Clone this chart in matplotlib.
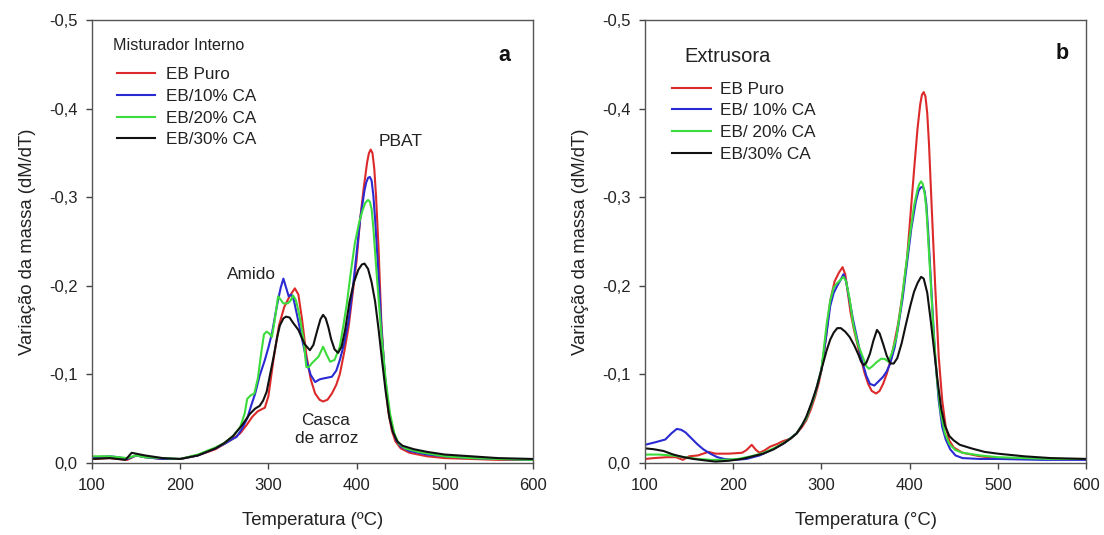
import matplotlib
matplotlib.use("Agg")
import matplotlib.pyplot as plt
from matplotlib.ticker import FuncFormatter, MultipleLocator

plt.rcParams['font.family'] = ['Liberation Sans', 'DejaVu Sans']

# ---------------- Panel a: Misturador Interno ----------------
a_puro_T = [100, 120, 140, 150, 160, 180, 200, 220, 240, 250, 260, 268, 275, 282, 288, 292, 296,
            300, 306, 312, 318, 324, 330, 334, 338, 343, 348, 353, 358, 362, 367, 372, 377, 381,
            386, 391, 396, 400, 404, 408, 412, 414, 416, 418, 420, 422, 425, 428, 432, 436, 440,
            444, 450, 460, 480, 500, 530, 560, 600]
a_puro_y = [-0.004, -0.005, -0.003, -0.008, -0.006, -0.004, -0.004, -0.008, -0.015, -0.021, -0.027,
            -0.033, -0.042, -0.052, -0.058, -0.060, -0.062, -0.075, -0.118, -0.155, -0.176, -0.188,
            -0.197, -0.190, -0.163, -0.122, -0.094, -0.078, -0.071, -0.069, -0.071, -0.078, -0.088,
            -0.100, -0.125, -0.154, -0.195, -0.229, -0.275, -0.310, -0.340, -0.350, -0.354, -0.350,
            -0.333, -0.302, -0.240, -0.160, -0.095, -0.057, -0.036, -0.024, -0.016, -0.011, -0.007,
            -0.005, -0.004, -0.003, -0.003]

a_10_T = [100, 120, 130, 140, 150, 160, 180, 200, 220, 240, 250, 260, 264, 270, 276, 281, 285, 290,
          296, 300, 304, 308, 311, 314, 317, 320, 323, 326, 329, 332, 336, 340, 344, 348, 353, 358,
          362, 367, 372, 377, 381, 386, 391, 396, 400, 404, 409, 411, 413, 415, 417, 419, 421, 425,
          428, 432, 436, 440, 445, 450, 460, 480, 500, 530, 560, 600]
a_10_y = [-0.006, -0.007, -0.006, -0.004, -0.008, -0.006, -0.004, -0.004, -0.008, -0.016, -0.021,
          -0.027, -0.029, -0.038, -0.050, -0.066, -0.078, -0.098, -0.116, -0.130, -0.146, -0.168,
          -0.184, -0.198, -0.208, -0.198, -0.188, -0.190, -0.183, -0.169, -0.150, -0.131, -0.112,
          -0.099, -0.091, -0.094, -0.095, -0.096, -0.097, -0.104, -0.116, -0.135, -0.161, -0.200,
          -0.237, -0.275, -0.308, -0.317, -0.322, -0.323, -0.319, -0.302, -0.275, -0.210, -0.154,
          -0.100, -0.063, -0.040, -0.025, -0.018, -0.013, -0.009, -0.007, -0.005, -0.004, -0.003]

a_20_T = [100, 120, 140, 150, 160, 180, 200, 220, 240, 250, 260, 268, 273, 276, 280, 284, 288, 292,
          295, 298, 301, 304, 307, 311, 314, 317, 322, 325, 328, 331, 334, 337, 340, 343, 346, 349,
          353, 357, 362, 366, 370, 375, 381, 385, 389, 393, 398, 403, 407, 410, 413, 415, 417, 419,
          423, 428, 433, 438, 443, 448, 455, 470, 500, 530, 560, 600]
a_20_y = [-0.007, -0.007, -0.005, -0.008, -0.006, -0.005, -0.004, -0.009, -0.017, -0.022, -0.030,
          -0.040, -0.055, -0.072, -0.076, -0.078, -0.095, -0.125, -0.145, -0.148, -0.146, -0.142,
          -0.160, -0.188, -0.184, -0.180, -0.180, -0.183, -0.189, -0.184, -0.172, -0.156, -0.138,
          -0.108, -0.108, -0.112, -0.116, -0.120, -0.131, -0.122, -0.114, -0.116, -0.131, -0.155,
          -0.180, -0.212, -0.248, -0.272, -0.286, -0.294, -0.297, -0.295, -0.287, -0.265, -0.210,
          -0.146, -0.093, -0.055, -0.032, -0.021, -0.016, -0.012, -0.007, -0.005, -0.004, -0.003]

a_30_T = [100, 120, 138, 145, 150, 160, 180, 200, 220, 240, 250, 260, 270, 279, 285, 290, 294, 298,
          302, 306, 310, 313, 317, 320, 324, 328, 334, 341, 347, 351, 355, 359, 362, 365, 368, 371,
          375, 379, 383, 387, 392, 397, 402, 406, 409, 413, 417, 421, 425, 429, 433, 437, 441, 446,
          452, 465, 480, 500, 530, 560, 600]
a_30_y = [-0.004, -0.005, -0.003, -0.011, -0.010, -0.008, -0.005, -0.004, -0.008, -0.016, -0.022,
          -0.030, -0.042, -0.055, -0.061, -0.064, -0.070, -0.080, -0.100, -0.120, -0.142, -0.155,
          -0.163, -0.165, -0.164, -0.158, -0.150, -0.134, -0.127, -0.133, -0.148, -0.162, -0.167,
          -0.163, -0.153, -0.140, -0.128, -0.124, -0.131, -0.150, -0.182, -0.204, -0.218, -0.224,
          -0.225, -0.219, -0.204, -0.182, -0.150, -0.114, -0.080, -0.052, -0.035, -0.024, -0.019,
          -0.015, -0.012, -0.009, -0.007, -0.005, -0.004]

# ---------------- Panel b: Extrusora ----------------
b_puro_T = [100, 110, 125, 135, 143, 150, 160, 172, 180, 195, 210, 215, 221, 226, 230, 236, 242, 250,
            256, 265, 272, 278, 283, 288, 293, 297, 300, 305, 310, 315, 320, 324, 327, 330, 333, 337,
            341, 345, 349, 353, 357, 362, 366, 370, 374, 378, 382, 387, 392, 397, 401, 405, 409, 412,
            414, 416, 418, 420, 422, 425, 429, 433, 437, 441, 445, 450, 460, 480, 500, 530, 560, 600]
b_puro_y = [-0.004, -0.005, -0.006, -0.006, -0.003, -0.007, -0.008, -0.012, -0.010, -0.010, -0.011,
            -0.014, -0.020, -0.014, -0.011, -0.014, -0.018, -0.021, -0.024, -0.027, -0.033, -0.040,
            -0.048, -0.060, -0.075, -0.090, -0.104, -0.140, -0.183, -0.205, -0.215, -0.221, -0.213,
            -0.192, -0.170, -0.150, -0.133, -0.117, -0.101, -0.089, -0.081, -0.078, -0.081, -0.089,
            -0.100, -0.114, -0.132, -0.157, -0.190, -0.230, -0.280, -0.330, -0.378, -0.405, -0.416,
            -0.419, -0.414, -0.395, -0.360, -0.290, -0.200, -0.120, -0.070, -0.040, -0.025, -0.017,
            -0.011, -0.007, -0.005, -0.004, -0.004, -0.004]

b_10_T = [100, 112, 123, 130, 136, 141, 146, 152, 159, 166, 174, 182, 190, 200, 215, 230, 245, 258,
          272, 283, 292, 300, 305, 310, 314, 318, 322, 325, 328, 332, 336, 341, 346, 351, 355, 360,
          365, 370, 374, 378, 383, 387, 392, 397, 402, 407, 410, 412.5, 415, 417, 419, 421, 425, 429,
          433, 437, 441, 446, 452, 460, 480, 500, 550, 600]
b_10_y = [-0.020, -0.023, -0.026, -0.033, -0.038, -0.037, -0.034, -0.028, -0.021, -0.015, -0.010,
          -0.006, -0.004, -0.003, -0.004, -0.008, -0.015, -0.022, -0.033, -0.050, -0.075, -0.105,
          -0.140, -0.177, -0.192, -0.200, -0.207, -0.213, -0.205, -0.183, -0.161, -0.138, -0.115,
          -0.098, -0.089, -0.087, -0.092, -0.097, -0.103, -0.112, -0.130, -0.153, -0.185, -0.225,
          -0.265, -0.295, -0.307, -0.311, -0.312, -0.307, -0.292, -0.262, -0.190, -0.120, -0.070,
          -0.040, -0.026, -0.015, -0.008, -0.005, -0.004, -0.004, -0.003, -0.003]

b_20_T = [100, 115, 130, 145, 160, 175, 190, 205, 220, 235, 250, 262, 272, 283, 292, 300, 306, 310,
          314, 318, 322, 325, 328, 332, 336, 341, 347, 351, 354, 358, 362, 368, 372, 376, 380, 385,
          390, 395, 400, 405, 409, 411, 413, 415, 417, 419, 423, 427, 431, 435, 440, 445, 452, 460,
          480, 500, 530, 560, 600]
b_20_y = [-0.009, -0.009, -0.008, -0.006, -0.004, -0.003, -0.003, -0.004, -0.007, -0.011, -0.018,
          -0.025, -0.033, -0.050, -0.075, -0.105, -0.157, -0.183, -0.198, -0.203, -0.207, -0.210,
          -0.205, -0.185, -0.157, -0.135, -0.119, -0.109, -0.106, -0.109, -0.113, -0.1175, -0.117,
          -0.114, -0.124, -0.142, -0.175, -0.215, -0.255, -0.290, -0.309, -0.315, -0.318, -0.315,
          -0.305, -0.287, -0.220, -0.150, -0.095, -0.058, -0.033, -0.021, -0.014, -0.011, -0.008,
          -0.006, -0.005, -0.004, -0.004]

b_30_T = [100, 110, 121, 132, 144, 155, 166, 180, 195, 210, 222, 234, 246, 257, 265, 272, 278, 283,
          289, 295, 300, 306, 310, 314, 318, 322, 327, 332, 337, 342, 345, 348, 351, 355, 359, 363,
          366, 370, 374, 378, 382, 386, 391, 396, 401, 405, 409, 413, 416, 420, 424, 428, 432, 436,
          440, 445, 450, 457, 470, 485, 500, 530, 560, 600]
b_30_y = [-0.016, -0.015, -0.013, -0.009, -0.006, -0.004, -0.0026, -0.001, -0.002, -0.004, -0.007,
          -0.010, -0.015, -0.0215, -0.027, -0.033, -0.042, -0.052, -0.068, -0.086, -0.105, -0.127,
          -0.139, -0.147, -0.152, -0.152, -0.148, -0.142, -0.133, -0.122, -0.114, -0.110, -0.113,
          -0.123, -0.138, -0.150, -0.146, -0.134, -0.121, -0.112, -0.112, -0.118, -0.135, -0.157,
          -0.178, -0.193, -0.203, -0.210, -0.208, -0.192, -0.160, -0.125, -0.090, -0.060, -0.042,
          -0.030, -0.025, -0.020, -0.016, -0.012, -0.010, -0.007, -0.005, -0.004]

labels_a = ['EB Puro', 'EB/10% CA', 'EB/20% CA', 'EB/30% CA']
labels_b = ['EB Puro', 'EB/ 10% CA', 'EB/ 20% CA', 'EB/30% CA']
colors = ['#dc2a2a', '#2a2ad2', '#3cdc3c', '#111111']
x_ticks = [100, 200, 300, 400, 500, 600]

series_a = [(a_puro_T, a_puro_y), (a_10_T, a_10_y), (a_20_T, a_20_y), (a_30_T, a_30_y)]
series_b = [(b_puro_T, b_puro_y), (b_10_T, b_10_y), (b_20_T, b_20_y), (b_30_T, b_30_y)]

TXT = '#222222'
comma = FuncFormatter(lambda v, p: f"{v + 0.0:.1f}".replace('.', ','))

fig = plt.figure(figsize=(11.04, 5.35), dpi=100)
ax_a = fig.add_axes([0.08333, 0.13551, 0.39946, 0.8262])
ax_b = fig.add_axes([0.58424, 0.13551, 0.39946, 0.8262])


def style(ax, xlabel):
    ax.set_xlim(100, 600)
    ax.set_ylim(0.0, -0.5)
    ax.set_xticks(x_ticks)
    ax.yaxis.set_major_locator(MultipleLocator(0.1))
    ax.yaxis.set_major_formatter(comma)
    ax.tick_params(axis='both', direction='out', length=4, width=1.0, color='#444444',
                   labelsize=12, labelcolor=TXT)
    ax.tick_params(axis='x', pad=7.5)
    ax.tick_params(axis='y', pad=6.5)
    for s in ax.spines.values():
        s.set_color('#555555')
        s.set_linewidth(1.0)
    ax.set_xlabel(xlabel, fontsize=13.3, color=TXT, labelpad=13.5)
    ax.set_ylabel('Variação da massa (dM/dT)', fontsize=13.3, color=TXT, labelpad=9)


for (T, y), lab, c in zip(series_a, labels_a, colors):
    ax_a.plot(T, y, color=c, lw=1.5, label=lab)
for (T, y), lab, c in zip(series_b, labels_b, colors):
    ax_b.plot(T, y, color=c, lw=1.5, label=lab)

style(ax_a, 'Temperatura (ºC)')
style(ax_b, 'Temperatura (°C)')

# legends
ax_a.text(0.0469, 0.9327, 'Misturador Interno', transform=ax_a.transAxes, fontsize=11.6,
          color=TXT, ha='left', va='baseline')
ax_a.legend(loc='upper left', bbox_to_anchor=(0.056, 0.895), frameon=False, fontsize=12.3,
            handlelength=2.24, handletextpad=0.64, labelspacing=0.4, borderpad=0,
            borderaxespad=0, labelcolor=TXT)

ax_b.text(0.0884, 0.9058, 'Extrusora', transform=ax_b.transAxes, fontsize=14.5,
          color=TXT, ha='left', va='baseline')
ax_b.legend(loc='upper left', bbox_to_anchor=(0.0605, 0.862), frameon=False, fontsize=12.4,
            handlelength=2.3, handletextpad=0.52, labelspacing=0.4, borderpad=0,
            borderaxespad=0, labelcolor=TXT)

# panel letters
ax_a.text(0.934, 0.908, 'a', transform=ax_a.transAxes, fontsize=15.5, fontweight='bold',
          color='#111111', ha='center', va='baseline')
ax_b.text(0.946, 0.9135, 'b', transform=ax_b.transAxes, fontsize=15.5, fontweight='bold',
          color='#111111', ha='center', va='baseline')

# peak annotations
ax_a.text(450, -0.3577, 'PBAT', fontsize=12.6, color=TXT, ha='center', va='baseline')
ax_a.text(281, -0.2078, 'Amido', fontsize=12.4, color=TXT, ha='center', va='baseline')
ax_a.text(365, -0.0425, 'Casca', fontsize=12.4, color=TXT, ha='center', va='baseline')
ax_a.text(366, -0.0217, 'de arroz', fontsize=12.4, color=TXT, ha='center', va='baseline')

fig.savefig('out.png', dpi=100)
